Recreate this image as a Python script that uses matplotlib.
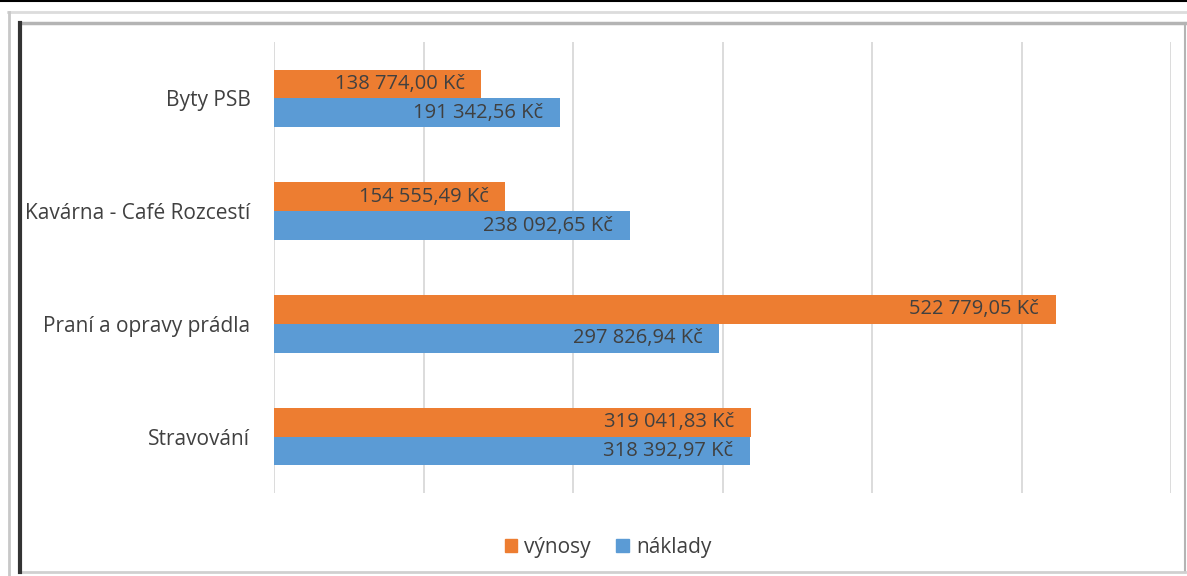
import matplotlib.pyplot as plt
from matplotlib.lines import Line2D
from matplotlib.patches import Patch

categories = ["Byty PSB", "Kavárna - Café Rozcestí", "Praní a opravy prádla", "Stravování"]
vynosy = [138774.00, 154555.49, 522779.05, 319041.83]
naklady = [191342.56, 238092.65, 297826.94, 318392.97]
series_names = ["výnosy", "náklady"]

ORANGE = "#ED7D31"
BLUE = "#5B9BD5"
TEXT = "#404040"

plt.rcParams['font.family'] = ['Open Sans', 'DejaVu Sans']


def fmt_czk(v):
    whole, dec = f"{v:,.2f}".split(".")
    return whole.replace(",", " ") + "," + dec + " Kč"


fig = plt.figure(figsize=(11.87, 5.76), dpi=100)
ax = fig.add_axes([274 / 1187, 1 - 493 / 576, (1171 - 274) / 1187, (493 - 42) / 576])

h = 0.256
pos = list(range(len(categories)))
b1 = ax.barh([p - h / 2 for p in pos], vynosy, height=h, color=ORANGE, zorder=2)
b2 = ax.barh([p + h / 2 for p in pos], naklady, height=h, color=BLUE, zorder=2)

for bars, vals in ((b1, vynosy), (b2, naklady)):
    for bar, v in zip(bars, vals):
        ax.annotate(fmt_czk(v), (bar.get_width(), bar.get_y() + bar.get_height() / 2),
                    xytext=(-12, 0), textcoords="offset points",
                    ha="right", va="center", fontsize=14.5, color=TEXT, zorder=3)

ax.set_xlim(0, 600000)
ax.set_ylim(3.5, -0.5)
ax.set_xticks(range(0, 600001, 100000))
ax.xaxis.grid(True, color="#d9d9d9", linewidth=1.3)
ax.set_axisbelow(True)
ax.tick_params(axis="x", length=0, labelbottom=False)
ax.tick_params(axis="y", length=0, pad=17)
ax.set_yticks(pos)
ax.set_yticklabels(categories, fontsize=15, color=TEXT)
for s in ax.spines.values():
    s.set_visible(False)

handles = [Patch(color=ORANGE), Patch(color=BLUE)]
fig.legend(handles, series_names, loc="center", bbox_to_anchor=(608 / 1187, 1 - 547 / 576), ncol=2,
           frameon=False, fontsize=15, handlelength=0.6, handleheight=0.6,
           handletextpad=0.35, columnspacing=1.2, labelcolor=TEXT)

# outer frame decorations
W, H = 1187, 576
def fl(x0, y0, x1, y1, c, lw):
    fig.add_artist(Line2D([x0 / W, x1 / W], [1 - y0 / H, 1 - y1 / H], color=c, lw=lw,
                          transform=fig.transFigure))

fl(0, 0.5, W, 0.5, "black", 1.5)
fl(8, 12, W, 12, "#dcdcdc", 2)
fl(9, 12, 9, H, "#c8c8c8", 2)
fl(20, 23, 1185, 23, "#b4b4b4", 2.5)
fl(1185, 23, 1185, 572, "#b4b4b4", 1.5)
fl(20, 572, 1185, 572, "#d0d0d0", 2)
fl(20, 23, 20, 572, "#333333", 3)

fig.savefig("out.png", dpi=100)
